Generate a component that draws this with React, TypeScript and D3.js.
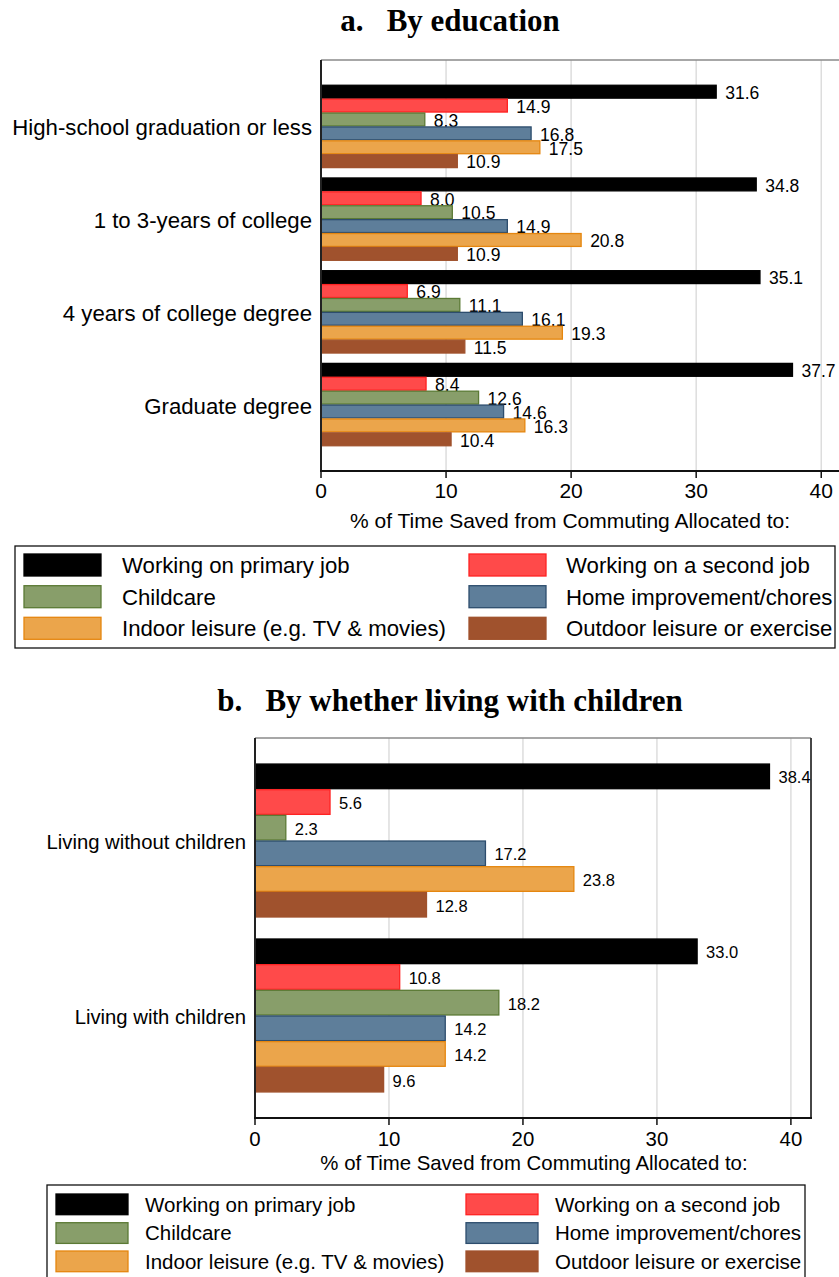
import * as d3 from "d3";

// series (legend order)
const seriesNames = [
  "Working on primary job",
  "Working on a second job",
  "Childcare",
  "Home improvement/chores",
  "Indoor leisure (e.g. TV & movies)",
  "Outdoor leisure or exercise",
];
const seriesFill = ["#000000", "#ff4a4a", "#889e6a", "#5e7e9a", "#eba54b", "#a0522d"];
const seriesStroke = ["#000000", "#ff2222", "#5b7a35", "#2d4d6d", "#e5860f", "#a0522d"];

// panel a: by education
const eduCategories = [
  "High-school graduation or less",
  "1 to 3-years of college",
  "4 years of college degree",
  "Graduate degree",
];
const primaryJobEdu = [31.6, 34.8, 35.1, 37.7];
const secondJobEdu = [14.9, 8.0, 6.9, 8.4];
const childcareEdu = [8.3, 10.5, 11.1, 12.6];
const choresEdu = [16.8, 14.9, 16.1, 14.6];
const indoorEdu = [17.5, 20.8, 19.3, 16.3];
const outdoorEdu = [10.9, 10.9, 11.5, 10.4];

// panel b: by whether living with children
const kidsCategories = ["Living without children", "Living with children"];
const primaryJobKids = [38.4, 33.0];
const secondJobKids = [5.6, 10.8];
const childcareKids = [2.3, 18.2];
const choresKids = [17.2, 14.2];
const indoorKids = [23.8, 14.2];
const outdoorKids = [12.8, 9.6];

const xTicks = [0, 10, 20, 30, 40];
const xMax = 41.5;
const axisTitle = "% of Time Saved from Commuting Allocated to:";

const SANS = "'Liberation Sans', Arial, Helvetica, sans-serif";
const SERIF = "'Liberation Serif', 'Times New Roman', serif";
const fmt = d3.format(".1f");

type PanelProps = {
  title: string;
  categories: string[];
  series: number[][];
  left: number;
  right: number;
  top: number;
  bottom: number;
  padInner: number;
  padOuter: number;
  catFont: number;
  valFont: number;
  tickFont: number;
  titleY: number;
  tickGap: number;
  axisTitleGap: number;
  axisTitleX: number;
  rightBorder: boolean;
};

function Panel(p: PanelProps) {
  const x = d3.scaleLinear().domain([0, xMax]).range([p.left, p.right]);
  const y0 = d3
    .scaleBand<string>()
    .domain(p.categories)
    .range([p.top, p.bottom])
    .paddingInner(p.padInner)
    .paddingOuter(p.padOuter);
  const y1 = d3
    .scaleBand<number>()
    .domain(d3.range(p.series.length))
    .range([0, y0.bandwidth()]);

  return (
    <g>
      <text
        x={450}
        y={p.titleY}
        textAnchor="middle"
        fontFamily={SERIF}
        fontWeight="bold"
        fontSize={31}
        style={{ whiteSpace: "pre" }}
      >
        {p.title}
      </text>

      {/* grid */}
      {xTicks.slice(1).map((t) => (
        <line key={t} x1={x(t)} x2={x(t)} y1={p.top} y2={p.bottom} stroke="#dddddd" strokeWidth={1.5} />
      ))}
      <line x1={p.left} x2={p.right} y1={p.top} y2={p.top} stroke="#8a8a8a" strokeWidth={1.5} />
      {p.rightBorder && (
        <line x1={p.right} x2={p.right} y1={p.top} y2={p.bottom} stroke="#333" strokeWidth={1.8} />
      )}

      {/* bars */}
      {p.categories.map((c, ci) => (
        <g key={c}>
          {p.series.map((vals, si) => {
            const yy = (y0(c) as number) + (y1(si) as number);
            const h = y1.bandwidth();
            return (
              <g key={si}>
                <rect
                  x={x(0)}
                  y={yy + 0.5}
                  width={x(vals[ci]) - x(0)}
                  height={h - 1}
                  fill={seriesFill[si]}
                  stroke={seriesStroke[si]}
                  strokeWidth={1.3}
                />
                <text
                  x={x(vals[ci]) + 9}
                  y={yy + h / 2 + 1}
                  dy="0.36em"
                  fontFamily={SANS}
                  fontSize={p.valFont}
                >
                  {fmt(vals[ci])}
                </text>
              </g>
            );
          })}
          <text
            x={p.left - 9}
            y={(y0(c) as number) + y0.bandwidth() / 2 + 1}
            dy="0.36em"
            textAnchor="end"
            fontFamily={SANS}
            fontSize={p.catFont}
          >
            {c}
          </text>
        </g>
      ))}

      {/* axes */}
      <line x1={p.left} x2={p.left} y1={p.top} y2={p.bottom} stroke="#222" strokeWidth={2} />
      <line x1={p.left - 1} x2={p.right + 1} y1={p.bottom} y2={p.bottom} stroke="#111" strokeWidth={2} />
      {xTicks.map((t) => (
        <g key={t}>
          <line x1={x(t)} x2={x(t)} y1={p.bottom} y2={p.bottom + 7} stroke="#111" strokeWidth={1.5} />
          <text
            x={x(t)}
            y={p.bottom + p.tickGap}
            textAnchor="middle"
            fontFamily={SANS}
            fontSize={p.tickFont}
          >
            {t}
          </text>
        </g>
      ))}
      <text
        x={p.axisTitleX}
        y={p.bottom + p.axisTitleGap}
        textAnchor="middle"
        fontFamily={SANS}
        fontSize={p.tickFont}
      >
        {axisTitle}
      </text>
    </g>
  );
}

type LegendProps = {
  x0: number;
  x1: number;
  y0: number;
  y1: number;
  swX: number[];
  swW: number;
  swH: number;
  rowY: number[];
  textX: number[];
  font: number;
};

function Legend(l: LegendProps) {
  return (
    <g>
      <rect x={l.x0} y={l.y0} width={l.x1 - l.x0} height={l.y1 - l.y0} fill="none" stroke="#111" strokeWidth={1.3} />
      {seriesNames.map((name, i) => {
        const col = i % 2;
        const row = Math.floor(i / 2);
        return (
          <g key={name}>
            <rect
              x={l.swX[col]}
              y={l.rowY[row]}
              width={l.swW}
              height={l.swH}
              fill={seriesFill[i]}
              stroke={seriesStroke[i]}
              strokeWidth={1.3}
            />
            <text
              x={l.textX[col]}
              y={l.rowY[row] + l.swH / 2}
              dy="0.36em"
              fontFamily={SANS}
              fontSize={l.font}
            >
              {name}
            </text>
          </g>
        );
      })}
    </g>
  );
}

export default function App() {
  const eduSeries = [primaryJobEdu, secondJobEdu, childcareEdu, choresEdu, indoorEdu, outdoorEdu];
  const kidsSeries = [primaryJobKids, secondJobKids, childcareKids, choresKids, indoorKids, outdoorKids];
  return (
    <svg
      width={839}
      height={1277}
      style={{ position: "absolute", left: 0, top: 0, display: "block", background: "#fff" }}
    >
      <Panel
        title="a.   By education"
        categories={eduCategories}
        series={eduSeries}
        left={321}
        right={840}
        top={60}
        bottom={471}
        padInner={0.101}
        padOuter={0.267}
        catFont={22.2}
        valFont={17.5}
        tickFont={21}
        titleY={31}
        tickGap={27}
        axisTitleGap={57}
        axisTitleX={570}
        rightBorder={false}
      />
      <Legend
        x0={15}
        x1={835}
        y0={546}
        y1={648}
        swX={[24, 469]}
        swW={77}
        swH={22}
        rowY={[554, 585.7, 617.3]}
        textX={[122, 566]}
        font={22.2}
      />
      <Panel
        title="b.   By whether living with children"
        categories={kidsCategories}
        series={kidsSeries}
        left={255}
        right={811}
        top={738}
        bottom={1118}
        padInner={0.12}
        padOuter={0.146}
        catFont={20.3}
        valFont={16.5}
        tickFont={20.4}
        titleY={711}
        tickGap={28}
        axisTitleGap={52}
        axisTitleX={534}
        rightBorder={true}
      />
      <Legend
        x0={47}
        x1={805}
        y0={1185}
        y1={1282}
        swX={[56, 466]}
        swW={72}
        swH={20.7}
        rowY={[1194, 1222.7, 1251]}
        textX={[145, 555]}
        font={20.5}
      />
    </svg>
  );
}
